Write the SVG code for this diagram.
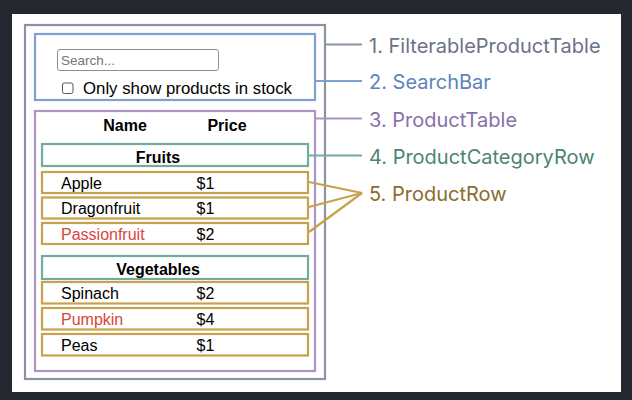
<svg xmlns="http://www.w3.org/2000/svg" width="632" height="400" viewBox="0 0 632 400">
  <style>
    .box { fill: none; stroke-width: 2.2; }
    .fpt { stroke: #8b93a2; }
    .sb { stroke: #7fa1d2; }
    .pt { stroke: #ad93c6; }
    .pcr { stroke: #73ac9d; }
    .pr { stroke: #c8a14c; }
    .cell { font-family: "Liberation Sans", Arial, sans-serif; font-size: 16px; fill: #000; }
    .head { font-family: "Liberation Sans", Arial, sans-serif; font-size: 16px; font-weight: bold; fill: #000; text-anchor: middle; }
    .red { fill: #d9453a; }
    .lbl { font-family: Inter, "Noto Sans", sans-serif; font-size: 20px; }
    .wire { fill: none; stroke-width: 2.2; }
  </style>

  <!-- page -->
  <rect x="0" y="0" width="632" height="400" fill="#23272f"/>
  <rect x="12" y="14" width="609" height="378" fill="#ffffff"/>

  <!-- FilterableProductTable -->
  <g id="filterable-product-table">
    <rect class="box fpt" x="25" y="25" width="300" height="354"/>
  </g>

  <!-- SearchBar -->
  <g id="search-bar">
    <rect class="box sb" x="35" y="34" width="280" height="66"/>
    <rect x="57.5" y="49.5" width="161" height="21" rx="2.5" fill="#fff" stroke="#8f8f8f" stroke-width="1"/>
    <text x="61" y="65" style="font-family:'Liberation Sans',Arial,sans-serif;font-size:13.5px;fill:#757575">Search...</text>
    <rect x="62.5" y="83" width="10.5" height="10.5" rx="2" fill="#fff" stroke="#555" stroke-width="1"/>
    <text class="cell" x="83" y="94" style="font-size:16.8px">Only show products in stock</text>
  </g>

  <!-- ProductTable -->
  <g id="product-table">
    <rect class="box pt" x="35" y="111" width="280" height="260"/>
    <text class="head" x="125" y="131">Name</text>
    <text class="head" x="227" y="131">Price</text>
  </g>

  <!-- category rows -->
  <g id="row-fruits">
    <rect class="box pcr" x="42" y="144" width="266" height="22"/>
    <text class="head" x="158" y="163">Fruits</text>
  </g>
  <g id="row-vegetables">
    <rect class="box pcr" x="42" y="256" width="266" height="23"/>
    <text class="head" x="158" y="275">Vegetables</text>
  </g>

  <!-- product rows -->
  <g id="row-apple">
    <rect class="box pr" x="42" y="172" width="266" height="21"/>
    <text class="cell" x="61" y="188.5">Apple</text>
    <text class="cell" x="196.5" y="188.5">$1</text>
  </g>
  <g id="row-dragonfruit">
    <rect class="box pr" x="42" y="197.5" width="266" height="21"/>
    <text class="cell" x="61" y="214">Dragonfruit</text>
    <text class="cell" x="196.5" y="214">$1</text>
  </g>
  <g id="row-passionfruit">
    <rect class="box pr" x="42" y="223" width="266" height="21"/>
    <text class="cell red" x="61" y="239.5">Passionfruit</text>
    <text class="cell" x="196.5" y="239.5">$2</text>
  </g>
  <g id="row-spinach">
    <rect class="box pr" x="42" y="282" width="266" height="21.5"/>
    <text class="cell" x="61" y="298.5">Spinach</text>
    <text class="cell" x="196.5" y="298.5">$2</text>
  </g>
  <g id="row-pumpkin">
    <rect class="box pr" x="42" y="308" width="266" height="21.5"/>
    <text class="cell red" x="61" y="324.5">Pumpkin</text>
    <text class="cell" x="196.5" y="324.5">$4</text>
  </g>
  <g id="row-peas">
    <rect class="box pr" x="42" y="334" width="266" height="21.5"/>
    <text class="cell" x="61" y="350.5">Peas</text>
    <text class="cell" x="196.5" y="350.5">$1</text>
  </g>

  <!-- connectors to the component labels -->
  <g id="connectors">
    <line class="wire fpt" x1="326" y1="44.5" x2="362" y2="44.5"/>
    <line class="wire sb" x1="316" y1="81" x2="362" y2="81"/>
    <line class="wire pt" x1="316" y1="118.5" x2="362" y2="118.5"/>
    <line class="wire pcr" x1="309" y1="155.5" x2="362" y2="155.5"/>
    <polyline class="wire pr" points="309,182 362,193 309,207"/>
    <line class="wire pr" x1="309" y1="232" x2="362" y2="193"/>
  </g>

  <!-- component labels -->
  <g id="labels">
    <text class="lbl" x="369" y="52.5" fill="#6b7385">1. FilterableProductTable</text>
    <text class="lbl" x="369" y="89" fill="#5d83bb">2. SearchBar</text>
    <text class="lbl" x="369" y="126.5" fill="#8a6fa7">3. ProductTable</text>
    <text class="lbl" x="369" y="163.5" fill="#4c8471">4. ProductCategoryRow</text>
    <text class="lbl" x="369" y="201" fill="#8a6c2e">5. ProductRow</text>
  </g>
</svg>
